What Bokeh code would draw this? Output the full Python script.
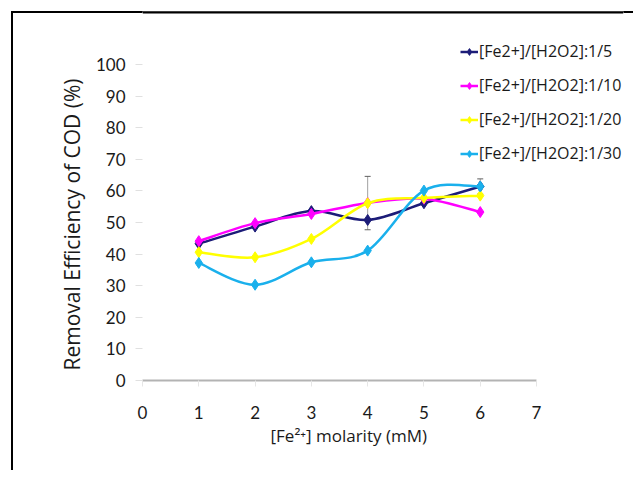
from bokeh.plotting import figure
from bokeh.models import Range1d, FixedTicker, Legend, LegendItem, ColumnDataSource, Whisker, TeeHead, Title
from bokeh.embed import file_html
from bokeh.resources import INLINE

# ---- data ----
molarity = [1, 2, 3, 4, 5, 6]
ratio_1_5 = [43.3, 48.7, 53.6, 50.8, 56.1, 61.4]
ratio_1_10 = [44.1, 49.8, 52.7, 56.2, 57.5, 53.3]
ratio_1_20 = [40.6, 39.0, 44.8, 56.1, 57.8, 58.5]
ratio_1_30 = [37.2, 30.3, 37.4, 41.1, 60.1, 61.4]
series_labels = ["[Fe2+]/[H2O2]:1/5", "[Fe2+]/[H2O2]:1/10", "[Fe2+]/[H2O2]:1/20", "[Fe2+]/[H2O2]:1/30"]
series_colors = ["#1c1c78", "#ff00ff", "#ffff00", "#1ab0ec"]
err_x = [4, 6]
err_upper = [64.6, 63.8]
err_lower = [47.7, 59.0]
x_ticks = [0, 1, 2, 3, 4, 5, 6, 7]
y_ticks = [0, 10, 20, 30, 40, 50, 60, 70, 80, 90, 100]
x_title = "[Fe²⁺] molarity (mM)"
y_title = "Removal Efficiency of COD (%)"

FONT = "Lato"
FONT2 = "Open Sans"
TXT = "#1a1a1a"

Y_END = 116.77  # frame reaches up to the top border line
X_END = 8.545

p = figure(width=633, height=470, output_backend="svg", toolbar_location=None,
           x_range=Range1d(0, X_END), y_range=Range1d(0, Y_END),
           min_border_left=142, min_border_right=10, min_border_top=11, min_border_bottom=90)
p.styles = {"background": ("linear-gradient(#000,#000) 11px 11px / 100% 2px no-repeat, "
                           "linear-gradient(#000,#000) 11px 11px / 2px 100% no-repeat, white")}
p.border_fill_alpha = 0
p.outline_line_color = None
p.xgrid.grid_line_color = None
p.ygrid.grid_line_color = None
p.background_fill_color = "white"

# top border of the chart box (half of the line falls outside the frame)
p.hspan(y=[Y_END], line_color="black", line_width=4)


def smooth_segments(xs, ys):
    n = len(xs)
    seg = dict(x0=[], y0=[], x1=[], y1=[], cx0=[], cy0=[], cx1=[], cy1=[])
    for i in range(n - 1):
        im1 = max(i - 1, 0)
        ip2 = min(i + 2, n - 1)
        seg["x0"].append(xs[i]); seg["y0"].append(ys[i])
        seg["x1"].append(xs[i + 1]); seg["y1"].append(ys[i + 1])
        seg["cx0"].append(xs[i] + (xs[i + 1] - xs[im1]) / 6)
        seg["cy0"].append(ys[i] + (ys[i + 1] - ys[im1]) / 6)
        seg["cx1"].append(xs[i + 1] - (xs[ip2] - xs[i]) / 6)
        seg["cy1"].append(ys[i + 1] - (ys[ip2] - ys[i]) / 6)
    return seg


# error bars
src_err = ColumnDataSource(dict(base=err_x, upper=err_upper, lower=err_lower))
wh = Whisker(source=src_err, base="base", upper="upper", lower="lower",
             line_color="#a0a0a0", line_width=1,
             upper_head=TeeHead(size=6, line_color="#606060", line_width=1),
             lower_head=TeeHead(size=6, line_color="#606060", line_width=1))
p.add_layout(wh)

items = []
all_series = [ratio_1_5, ratio_1_10, ratio_1_20, ratio_1_30]
for vals, lab, col in zip(all_series, series_labels, series_colors):
    seg = smooth_segments(molarity, vals)
    bz = p.bezier(source=ColumnDataSource(seg), x0="x0", y0="y0", x1="x1", y1="y1",
                  cx0="cx0", cy0="cy0", cx1="cx1", cy1="cy1", line_color=col, line_width=2.5)
    sc = p.scatter(molarity, vals, marker="diamond", size=11, fill_color=col, line_color=col)
    items.append(LegendItem(label=lab, renderers=[bz, sc]))

legend = Legend(items=items, location=(318, 216), background_fill_alpha=0,
                border_line_color=None, label_text_font=FONT2, label_text_font_size="16px",
                label_text_color=TXT, glyph_width=18, glyph_height=17, label_standoff=1,
                spacing=12, padding=0, margin=0, label_height=17)
p.add_layout(legend, "center")

# axes
p.xaxis.bounds = (x_ticks[0], x_ticks[-1])
p.yaxis.bounds = (y_ticks[0], y_ticks[-1])
p.xaxis.ticker = FixedTicker(ticks=x_ticks)
p.yaxis.ticker = FixedTicker(ticks=y_ticks)
p.xaxis.axis_line_color = "#b3b3b3"
p.xaxis.axis_line_width = 2
p.xaxis.major_tick_line_color = "#e6e6e6"
p.xaxis.major_tick_in = 0
p.xaxis.major_tick_out = 6
p.xaxis.minor_tick_line_color = None
p.xaxis.major_label_standoff = 19
p.xaxis.major_label_text_font = FONT
p.xaxis.major_label_text_font_size = "17px"
p.xaxis.major_label_text_color = TXT

p.yaxis.axis_line_color = None
p.yaxis.major_tick_line_color = "#e0e0e0"
p.yaxis.major_tick_in = 0
p.yaxis.major_tick_out = 7
p.yaxis.minor_tick_line_color = None
p.yaxis.major_label_standoff = 10
p.yaxis.major_label_text_font = FONT
p.yaxis.major_label_text_font_size = "17px"
p.yaxis.major_label_text_color = TXT

# axis titles (placed as titles so they can be positioned along the bounded axes)
xt = Title(text=x_title, align="left", offset=128, standoff=0,
           text_font=FONT2, text_font_size="17px", text_font_style="normal", text_color=TXT)
p.add_layout(xt, "below")
yt = Title(text=y_title, align="left", offset=10, standoff=14,
           text_font=FONT2, text_font_size="21px", text_font_style="normal", text_color=TXT)
p.add_layout(yt, "left")

open("out.html", "w").write(file_html(p, INLINE))
